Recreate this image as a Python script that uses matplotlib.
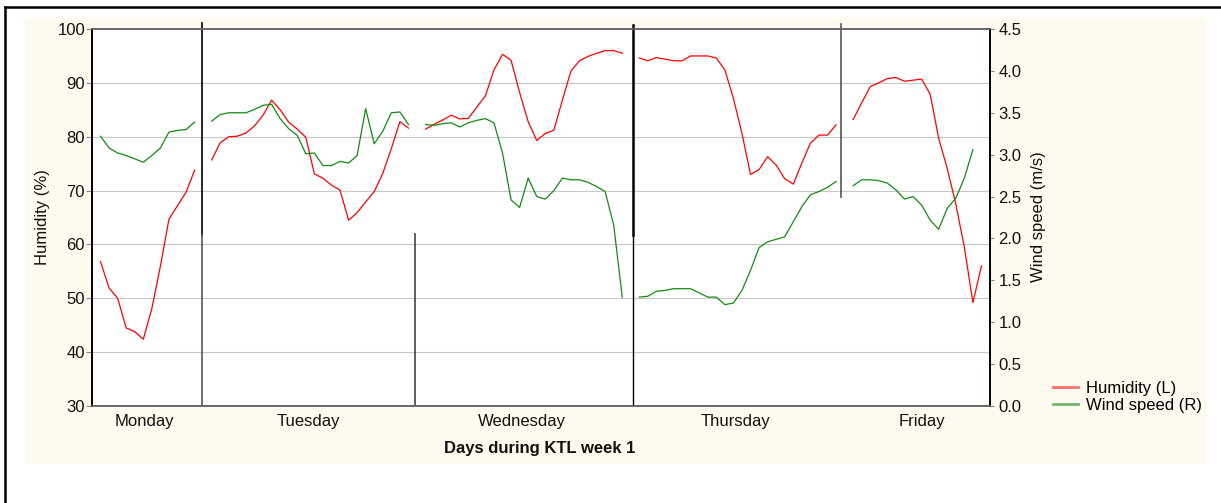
import numpy as np
import matplotlib.pyplot as plt
from matplotlib.lines import Line2D
from matplotlib.patches import Rectangle

plt.rcParams['font.family'] = ['Liberation Sans', 'DejaVu Sans']

days = ["Monday", "Tuesday", "Wednesday", "Thursday", "Friday"]
day_start = [1, 14, 39, 64, 89]          # hour index of first reading
day_centre = [6.1, 25.3, 50.3, 75.3, 97.1]
day_sep = [12.9, 37.8, 63.2, 87.6]

humidity = [
    [56.8, 51.9, 50.0, 44.5, 43.8, 42.4, 48.1, 56.0, 64.7, 67.2, 69.7, 73.8],
    [75.7, 78.9, 80.0, 80.1, 80.7, 82.0, 84.0, 86.8, 85.0, 82.7, 81.4, 79.9,
     73.1, 72.3, 71.0, 70.1, 64.5, 65.9, 67.9, 69.8, 73.2, 77.8, 82.8, 81.6],
    [81.4, 82.3, 83.1, 84.0, 83.3, 83.4, 85.5, 87.6, 92.4, 95.3, 94.2, 88.2,
     82.8, 79.3, 80.6, 81.2, 86.8, 92.2, 94.1, 94.9, 95.5, 96.0, 96.0, 95.5],
    [94.6, 94.1, 94.7, 94.4, 94.1, 94.1, 95.0, 95.0, 95.0, 94.6, 92.4, 87.1,
     80.6, 73.0, 73.9, 76.3, 74.7, 72.2, 71.2, 75.1, 78.8, 80.3, 80.3, 82.2],
    [83.2, 86.3, 89.3, 90.0, 90.8, 91.0, 90.3, 90.5, 90.7, 87.9, 79.7, 74.1,
     67.5, 59.5, 49.2, 56.0],
]
wind = [
    [3.22, 3.08, 3.02, 2.99, 2.95, 2.91, 2.99, 3.08, 3.27, 3.29, 3.30, 3.39],
    [3.40, 3.48, 3.50, 3.50, 3.50, 3.54, 3.59, 3.60, 3.43, 3.31, 3.23, 3.01,
     3.02, 2.87, 2.87, 2.92, 2.90, 2.99, 3.55, 3.13, 3.28, 3.50, 3.51, 3.36],
    [3.36, 3.35, 3.37, 3.38, 3.33, 3.38, 3.41, 3.43, 3.38, 3.02, 2.46, 2.37,
     2.72, 2.50, 2.47, 2.57, 2.72, 2.70, 2.70, 2.67, 2.62, 2.56, 2.16, 1.30],
    [1.30, 1.31, 1.37, 1.38, 1.40, 1.40, 1.40, 1.35, 1.30, 1.30, 1.21, 1.23,
     1.38, 1.62, 1.89, 1.96, 1.99, 2.02, 2.20, 2.38, 2.52, 2.56, 2.61, 2.68],
    [2.63, 2.70, 2.70, 2.69, 2.66, 2.58, 2.47, 2.50, 2.40, 2.22, 2.11, 2.36,
     2.48, 2.72, 3.06],
]

RED = "#ff0000"
GREEN = "#138a13"
FS = 12
W, H = 1221, 503

fig = plt.figure(figsize=(W / 100, H / 100), dpi=100)
fig.patch.set_facecolor("white")
fig.patches.append(Rectangle((25 / W, 1 - 463 / H), 1180 / W, 445 / H,
                             transform=fig.transFigure, color="#fffaef", zorder=-5))
# outer frame (top + left)
fig.add_artist(Line2D([5 / W, 1], [1 - 7 / H, 1 - 7 / H], transform=fig.transFigure,
                      color="black", lw=1.8))
fig.add_artist(Line2D([5 / W, 5 / W], [0, 1 - 7 / H], transform=fig.transFigure,
                      color="black", lw=1.8))

ax = fig.add_axes([92 / W, 1 - 406 / H, 898 / W, 377 / H])
ax2 = ax.twinx()
ax.set_facecolor("white")

for start, h in zip(day_start, humidity):
    ax.plot(np.arange(start, start + len(h)), h, color=RED, lw=0.9, zorder=3)
for start, w in zip(day_start, wind):
    ax2.plot(np.arange(start, start + len(w)), w, color=GREEN, lw=0.9, zorder=3)

ax.set_xlim(0, 105)
ax.set_ylim(30, 100)
ax2.set_ylim(0, 4.5)
ax.set_yticks(np.arange(30, 101, 10))
ax2.set_yticks(np.arange(0, 4.51, 0.5))
ax2.set_yticklabels([f"{v:.1f}" for v in np.arange(0, 4.51, 0.5)])
ax.set_xticks(day_centre)
ax.set_xticklabels(days)

for y in range(40, 100, 10):
    ax.axhline(y, color="#c8c8c8", lw=0.8, zorder=1)

# day separators
ax.plot([day_sep[0]] * 2, [61.8, 101.1], color="black", lw=1.2, clip_on=False, zorder=4)
ax.plot([day_sep[0]] * 2, [30, 61.8], color="#555555", lw=1.2, zorder=4)
ax.plot([day_sep[1]] * 2, [30, 61.9], color="#444444", lw=1.2, zorder=4)
ax.plot([day_sep[2]] * 2, [61.8, 100.7], color="black", lw=1.8, clip_on=False, zorder=4)
ax.plot([day_sep[2]] * 2, [30, 61.8], color="black", lw=1.0, zorder=4)
ax.plot([day_sep[3]] * 2, [68.8, 100.9], color="#555555", lw=1.2, clip_on=False, zorder=4)

for a in (ax, ax2):
    a.spines["top"].set_color("#666666")
    a.spines["bottom"].set_color("#666666")
    a.spines["left"].set_color("black")
    a.spines["right"].set_color("black")
    for s in a.spines.values():
        s.set_linewidth(1.2)

ax.tick_params(axis="y", labelsize=FS, length=4, width=0.8, color="#888888",
               pad=1, labelcolor="#111111")
ax2.tick_params(axis="y", labelsize=FS, length=3, width=0.8, color="#888888",
                pad=3, labelcolor="#111111")
ax.tick_params(axis="x", labelsize=FS, length=0, pad=6, labelcolor="#111111")

fig.text(43 / W, 1 - 217 / H, "Humidity (%)", rotation=90, ha="center", va="center",
         fontsize=FS, color="#111111")
fig.text(1038 / W, 1 - 217 / H, "Wind speed (m/s)", rotation=90, ha="center",
         va="center", fontsize=FS, color="#111111")
fig.text(540 / W, 1 - 448 / H, "Days during KTL week 1", ha="center", va="center",
         fontsize=FS, fontweight="bold", color="#111111")

handles = [Line2D([], [], color=RED, lw=2, alpha=0.55),
           Line2D([], [], color=GREEN, lw=2, alpha=0.6)]
fig.legend(handles, ["Humidity (L)", "Wind speed (R)"], loc="upper left",
           bbox_to_anchor=(1053 / W, 1 - 381 / H), bbox_transform=fig.transFigure,
           frameon=False, fontsize=FS, handlelength=1.5, handletextpad=0.45,
           labelspacing=0.1, borderpad=0, borderaxespad=0)

fig.savefig("out.png", dpi=100)
